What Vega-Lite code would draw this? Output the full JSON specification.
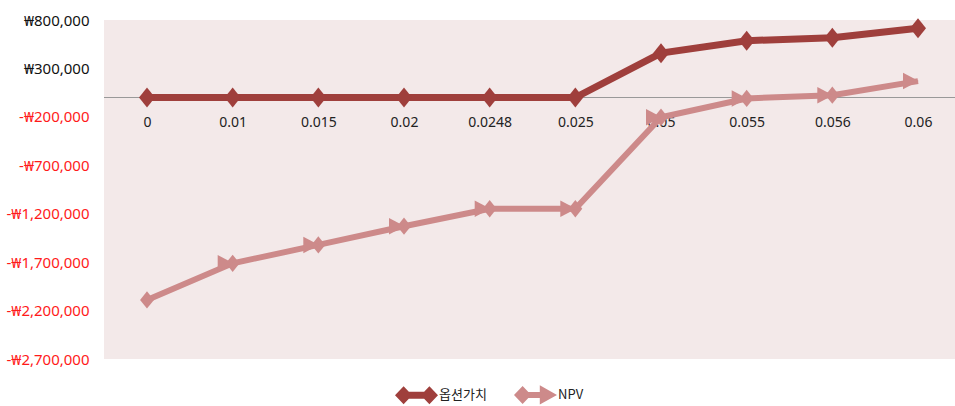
{
  "$schema": "https://vega.github.io/schema/vega-lite/v6.json",
  "width": 851,
  "height": 339,
  "autosize": {"type": "none"},
  "padding": {"left": 104, "top": 20, "right": 0, "bottom": 47},
  "background": "white",
  "config": {
    "view": {"fill": "#F3E9E9", "stroke": null},
    "font": "Noto Sans"
  },
  "data": {
    "values": [
      {"r": "0", "series": "옵션가치", "value": 0},
      {"r": "0.01", "series": "옵션가치", "value": 0},
      {"r": "0.015", "series": "옵션가치", "value": 0},
      {"r": "0.02", "series": "옵션가치", "value": 0},
      {"r": "0.0248", "series": "옵션가치", "value": 0},
      {"r": "0.025", "series": "옵션가치", "value": 0},
      {"r": "0.05", "series": "옵션가치", "value": 458000},
      {"r": "0.055", "series": "옵션가치", "value": 586000},
      {"r": "0.056", "series": "옵션가치", "value": 617000},
      {"r": "0.06", "series": "옵션가치", "value": 714000},
      {"r": "0", "series": "NPV", "value": -2090000},
      {"r": "0.01", "series": "NPV", "value": -1712000},
      {"r": "0.015", "series": "NPV", "value": -1522000},
      {"r": "0.02", "series": "NPV", "value": -1329000},
      {"r": "0.0248", "series": "NPV", "value": -1149000},
      {"r": "0.025", "series": "NPV", "value": -1149000},
      {"r": "0.05", "series": "NPV", "value": -204000},
      {"r": "0.055", "series": "NPV", "value": -10000},
      {"r": "0.056", "series": "NPV", "value": 24000},
      {"r": "0.06", "series": "NPV", "value": 169000}
    ]
  },
  "encoding": {
    "x": {
      "field": "r",
      "type": "ordinal",
      "sort": ["0", "0.01", "0.015", "0.02", "0.0248", "0.025", "0.05", "0.055", "0.056", "0.06"],
      "scale": {"type": "point", "range": [43, 814], "padding": 0},
      "axis": {
        "title": null,
        "labelAngle": 0,
        "offset": -261.5,
        "domain": false,
        "ticks": false,
        "labelPadding": 18,
        "labelFontSize": 14,
        "labelColor": "#222222",
        "labelFont": "Noto Sans"
      }
    },
    "y": {
      "field": "value",
      "type": "quantitative",
      "scale": {"domain": [-2700000, 800000], "nice": false, "zero": false},
      "axis": {
        "title": null,
        "values": [800000, 300000, -200000, -700000, -1200000, -1700000, -2200000, -2700000],
        "grid": false,
        "domain": false,
        "ticks": false,
        "labelPadding": 15,
        "labelFontSize": 15,
        "labelFont": "Noto Sans",
        "labelExpr": "datum.value < 0 ? '-₩' + format(-datum.value, ',') : '₩' + format(datum.value, ',')",
        "labelColor": {"condition": {"test": "datum.value < 0", "value": "#ff1a1a"}, "value": "#111111"}
      }
    }
  },
  "layer": [
    {
      "mark": {"type": "rule", "color": "#999999", "strokeWidth": 1.2},
      "encoding": {"x": null, "y": {"datum": 0}}
    },
    {
      "transform": [{"filter": "datum.series === 'NPV'"}],
      "mark": {"type": "line", "strokeWidth": 6, "color": "#CD8A8A"},
      "encoding": {"x": {"field": "r", "type": "ordinal", "sort": null}}
    },
    {
      "transform": [{"filter": "datum.series === 'NPV' && datum.r !== '0.06'"}],
      "mark": {"type": "point", "filled": true, "opacity": 1, "size": 300, "shape": "M0,-1L0.8,0L0,1L-0.8,0Z", "strokeWidth": 0, "color": "#CD8A8A"}
    },
    {
      "transform": [{"filter": "datum.series === 'NPV' && datum.r !== '0'"}],
      "mark": {"type": "point", "filled": true, "opacity": 1, "size": 900, "shape": "M-1,-0.55L0.05,0L-1,0.55Z", "strokeWidth": 0, "color": "#CD8A8A"}
    },
    {
      "transform": [{"filter": "datum.series === '옵션가치'"}],
      "mark": {"type": "line", "strokeWidth": 7, "color": "#9F3F3C"},
      "encoding": {"x": {"field": "r", "type": "ordinal", "sort": null}}
    },
    {
      "transform": [{"filter": "datum.series === '옵션가치'"}],
      "mark": {"type": "point", "filled": true, "opacity": 1, "size": 400, "shape": "M0,-1L0.8,0L0,1L-0.8,0Z", "strokeWidth": 0, "color": "#9F3F3C"}
    },
    {
      "mark": {"type": "point", "filled": true, "opacity": 0, "strokeWidth": 0},
      "encoding": {
        "color": {
          "field": "series",
          "type": "nominal",
          "scale": {"domain": ["옵션가치", "NPV"], "range": ["#9F3F3C", "#CD8A8A"]},
          "legend": {
            "orient": "none", "legendX": 291, "legendY": 353, "direction": "horizontal", "title": null,
            "symbolSize": 1849, "labelFont": "Noto Sans CJK KR", "labelFontSize": 13, "labelOffset": 1,
            "columnPadding": 27, "symbolStrokeWidth": 0, "labelColor": "#222222", "symbolOpacity": 1
          }
        },
        "shape": {
          "field": "series",
          "type": "nominal",
          "scale": {
            "domain": ["옵션가치", "NPV"],
            "range": [
              "M-1,0L-0.6,-0.42L-0.2,0L-0.6,0.42Z M0.2,0L0.6,-0.42L1,0L0.6,0.42Z M-0.6,-0.16H0.6V0.16H-0.6Z",
              "M-1,0L-0.6,-0.42L-0.2,0L-0.6,0.42Z M0.2,-0.45L1,0L0.2,0.45Z M-0.6,-0.14H0.3V0.14H-0.6Z"
            ]
          },
          "legend": {
            "orient": "none", "legendX": 291, "legendY": 353, "direction": "horizontal", "title": null,
            "symbolSize": 1849, "labelFont": "Noto Sans CJK KR", "labelFontSize": 13, "labelOffset": 1,
            "columnPadding": 27, "symbolStrokeWidth": 0, "labelColor": "#222222", "symbolOpacity": 1
          }
        }
      }
    }
  ]
}
